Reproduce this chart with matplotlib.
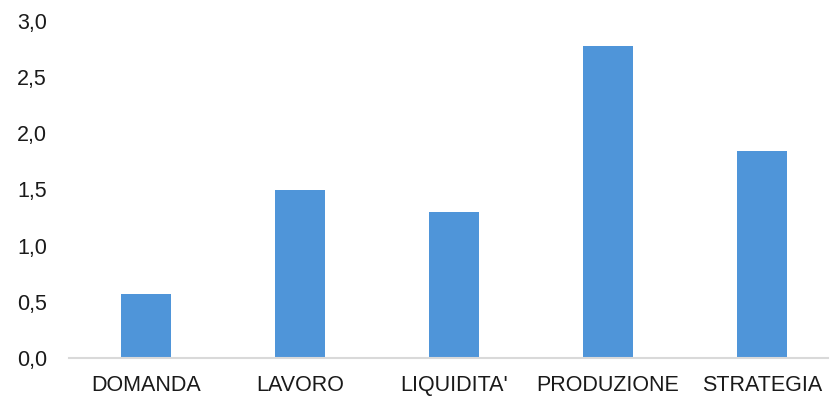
import matplotlib.pyplot as plt
from matplotlib.ticker import FuncFormatter

# DATI
categorie = ["DOMANDA", "LAVORO", "LIQUIDITA'", "PRODUZIONE", "STRATEGIA"]
valori = [0.57, 1.50, 1.30, 2.78, 1.84]

plt.rcParams["font.family"] = ["Liberation Sans", "DejaVu Sans"]

fig = plt.figure(figsize=(8.3, 4.0), dpi=100)
ax = fig.add_axes([69 / 830, 42 / 400, (828 - 69) / 830, (358 - 21) / 400])

ax.bar(range(len(categorie)), valori, width=0.325, color="#4F95D9")

ax.set_xlim(-0.5, 4.43)
ax.set_ylim(0, 3.0)
ax.set_yticks([0, 0.5, 1.0, 1.5, 2.0, 2.5, 3.0])
ax.yaxis.set_major_formatter(FuncFormatter(lambda v, p: f"{v:.1f}".replace(".", ",")))
ax.set_xticks(range(len(categorie)))
ax.set_xticklabels(categorie)

for lato in ["top", "right", "left"]:
    ax.spines[lato].set_visible(False)
ax.spines["bottom"].set_color("#D9D9D9")
ax.spines["bottom"].set_linewidth(1.5)

ax.tick_params(axis="both", length=0, labelsize=15.5, colors="#1a1a1a")
ax.tick_params(axis="y", pad=16)
ax.tick_params(axis="x", pad=12)

fig.savefig("out.png", dpi=100)
